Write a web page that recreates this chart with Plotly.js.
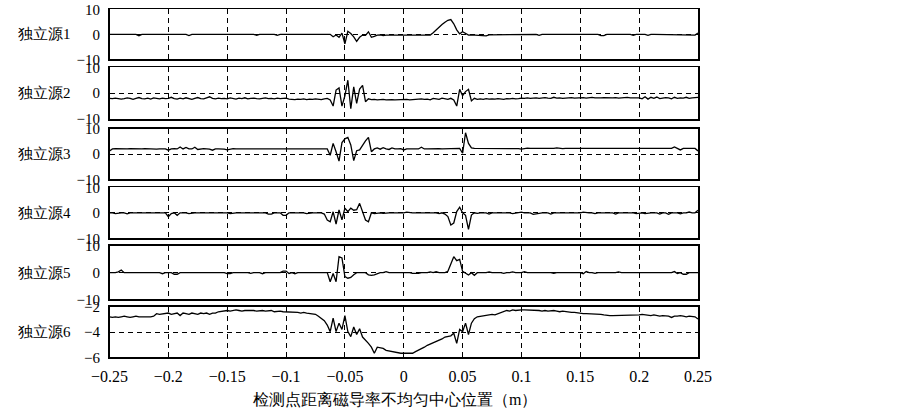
<!DOCTYPE html>
<html><head><meta charset="utf-8">
<script src="https://cdn.plot.ly/plotly-3.0.1.min.js"></script>
<style>body{margin:0;background:#fff}</style>
</head><body><div id="chart" style="width:903px;height:416px"></div>
<script>
// ---- data ----
const sourceNames = ['独立源1','独立源2','独立源3','独立源4','独立源5','独立源6'];
const xTitle = '检测点距离磁导率不均匀中心位置（m）';
const xTickVals = [-0.25,-0.2,-0.15,-0.1,-0.05,0,0.05,0.1,0.15,0.2,0.25];
const xTickText = ['−0.25','−0.2','−0.15','−0.1','−0.05','0','0.05','0.1','0.15','0.2','0.25'];
const yTickVals = [[-10,0,10],[-10,0,10],[-10,0,10],[-10,0,10],[-10,0,10],[-6,-4,-2]];
const yTickText = [['−10','0','10'],['−10','0','10'],['−10','0','10'],['−10','0','10'],['−10','0','10'],['−6','−4','−2']];
const xStart = -0.25, xStep = 0.0025;

const s1 = [
0,0,0,0,0,0,0,0,0,0,-0.6,0,0,0,0,0,0,0,0,0,
0,0,0,0,0,0,0,-0.5,0,0,0,0,0,0,0,0,0,0,0,0,
0,0,0,0,0,0,0,0,0,0,-0.4,0,0,0,0,0,0,-0.4,0,0,
0,0,0,0,0,0,0,0,0.3,0,0,0,0,0,0,0,-1,-0.3,-1.2,0.5,
-3.8,1.2,0.3,-1,-2.8,-1.2,-0.3,-0.4,1,-1.2,-0.8,-0.3,-0.2,-0.5,-0.3,-0.4,-0.3,-0.3,-0.3,-0.3,
-0.2,-0.2,-0.3,-0.2,-0.2,-0.3,-0.3,-0.2,-0.3,-0.3,0.6,1.8,3,3.9,4.8,5.6,5.9,4.2,1.8,0.2,
1,0.2,-0.3,-0.2,-0.3,-0.2,-0.2,-0.6,-0.6,-0.2,-0.2,-0.2,-0.2,-0.2,-0.2,-0.1,-0.1,-0.1,-0.1,0,
0,0,0,-0.3,0,0,-0.4,0,0,0,0,0,0,0,0,0,0,0,0,0,
0,0,0,0,0,0,0,-0.5,-0.5,0,0,0,0,0,0,0,0,0,-0.4,0,
0,0,0,-0.4,0,0,0,0,0,-0.3,0,0,0,0,0,0,0,0,0,-0.3,
0.5];
const s2 = [
-2.0,-2.1,-1.9,-2.0,-2.3,-2.1,-1.8,-2.0,-2.4,-2.0,-1.7,-2.1,-2.2,-1.9,-2.3,-1.8,-2.0,-2.2,-1.9,-2.1,
-2.0,-1.6,-2.1,-2.3,-1.9,-2.2,-1.8,-2.0,-2.4,-2.0,-1.7,-2.1,-2.2,-1.8,-1.4,-2.0,-2.2,-1.9,-2.1,-2.0,
-2.2,-1.8,-2.0,-2.3,-1.9,-2.1,-1.8,-2.2,-2.0,-1.9,-2.1,-2.2,-2.0,-1.8,-2.1,-2.0,-2.2,-1.9,-2.1,-2.0,
-1.9,-2.3,-2.4,-2.5,-2.3,-2.4,-2.2,-2.5,-2.3,-2.4,-2.2,-2.3,-2.5,-2.2,-2.0,-2.6,-5.0,1.2,2.0,-5.0,
-1.0,5.0,-6.0,2.4,-4.0,1.6,3.0,-3.3,-2.2,-2.5,-2.4,-2.6,-2.5,-2.4,-2.6,-2.5,-2.5,-2.6,-2.5,-2.4,
-2.5,-2.4,-2.6,-2.5,-2.4,-2.5,-2.2,-2.4,-2.3,-2.6,-2.0,-2.2,-2.4,-1.9,-2.2,-2.4,-2.0,-2.6,-5.0,1.5,
-1.0,0.6,1.5,-3.0,-2.0,-2.4,-2.2,-2.4,-2.1,-2.3,-2.2,-2.3,-2.1,-2.2,-2.4,-2.1,-2.2,-2.0,-2.2,-2.1,
-1.9,-2.0,-1.8,-2.0,-1.9,-1.8,-2.0,-1.9,-1.7,-1.9,-2.0,-1.6,-1.9,-1.8,-2.0,-1.9,-1.8,-1.7,-1.9,-1.8,
-1.8,-1.7,-1.9,-1.8,-1.6,-1.8,-1.9,-1.8,-1.7,-1.8,-1.9,-1.8,-1.7,-1.9,-1.8,-1.7,-1.6,-1.8,-1.9,-1.8,
-1.8,-2.2,-1.4,-2.3,-1.6,-2.0,-1.5,-2.1,-1.9,-1.7,-1.8,-2.2,-1.6,-2.0,-1.8,-1.9,-1.6,-2.0,-1.8,-1.7,
-1.6];
const s3 = [
1.2,2.0,2.1,2.0,1.9,2.0,2.0,2.1,2.0,2.0,1.9,2.0,2.1,2.0,2.0,2.0,1.9,2.0,2.1,2.0,
1.5,2.0,2.1,2.0,2.8,2.0,2.6,2.0,2.0,2.7,1.8,2.0,2.1,2.0,1.9,1.5,2.0,2.0,2.1,1.9,
1.6,2.0,2.1,2.0,2.0,2.1,2.0,2.0,1.9,2.0,2.1,2.0,2.0,2.0,1.9,2.0,2.0,2.1,2.0,2.0,
2.0,2.1,2.0,1.9,2.0,2.1,2.0,2.0,2.1,2.0,2.0,1.9,2.0,2.1,2.0,-0.5,4.2,0.9,-2.8,4.5,
6.0,6.6,3.6,-2.6,1.3,1.6,3.5,5.2,6.6,0.9,2.0,2.4,1.9,2.5,2.0,1.8,2.4,2.0,2.0,2.1,
1.6,2.0,2.0,2.1,2.0,2.0,2.7,2.0,2.0,2.1,2.0,2.0,2.1,2.0,2.0,2.1,2.0,2.2,2.1,2.2,
0.3,8.4,4.2,2.4,2.2,2.2,2.3,2.2,2.2,2.1,2.2,2.3,2.2,2.2,2.2,2.3,2.2,2.2,2.2,2.1,
1.9,2.2,2.3,2.2,2.2,2.1,2.2,2.2,2.3,2.2,2.2,2.2,2.4,2.2,2.1,2.2,2.2,2.3,2.2,2.2,
2.2,2.1,2.2,2.2,2.2,2.3,2.2,2.2,2.2,2.2,2.1,2.2,2.2,2.2,2.2,2.1,2.2,2.2,2.2,2.1,
2.2,2.2,2.1,2.2,2.2,2.2,2.3,2.2,2.2,2.2,2.1,2.2,2.8,2.2,1.6,2.2,2.2,2.2,2.2,2.2,
1.2];
const s4 = [
0,0,-0.3,0,0,0,-0.4,0,0,0,0,0,0,-0.2,0,0,0,0,0,0,
-1.5,-0.3,0,-1,0,0,0,-0.3,0,0,0,0,0,0,-0.2,0,0,0,0,0,
0,-0.3,0,0,0,0,0,0,-0.2,0,0,0,0,0,-0.5,-0.5,0,0,0,-1.0,
-1.0,0,0,0,0,0,0,-0.3,0,0,0,0,0,-0.5,-2.8,-3.5,0.4,-4.4,1.1,-2.8,
1.8,0.4,1.8,1.0,1.2,3.7,0.4,-2.8,-3.5,0,-0.3,0,0,-0.2,0,0,0,0,0,0,
0,0.3,0,0,0,0,0,0,0,0,0,0,-0.3,0,-0.5,-1.5,-4.8,-4.0,0.5,2.2,
0,-1.0,-6.5,-0.9,0,-0.2,0,0,0,-0.5,0,0,0,0,0,0,0,-0.3,0,0,
0.3,0,0,0,-0.6,-0.4,0,0,0,0,-0.5,0,0,0,0.2,0,0,0,0,0,
0,0.3,0,0,0,-0.3,0,0,0,0,0,0,-0.5,0,0,0,0,0,0,-0.3,
0,0,-0.3,0,0,0,0,-0.5,0,0,-0.6,0,0,0,-0.4,0,0,0.3,0,0,
1.0];
const s5 = [
0,0,0,0.3,1.0,0,0,0,0,0,0,0,0,0,0,0,0,0,-0.4,0,
0,0,-0.6,-0.6,0,0,0,0,0,0,0,0,0,0,0,0,0,0,0,0,
-0.4,-0.4,0,0,0,0,0,0,-0.3,0,0,0,-0.4,0,0,0,0,0,0,0.6,
0.6,-0.3,0,-0.4,0,0,0,0,0,0,0,0,0,0,0,-3.4,-0.3,-3.4,6.0,5.5,
-1.5,-2.1,-1.8,-0.8,0,0,0,0,-0.8,-1.0,-0.8,-0.5,0,0,0.4,0,0,0,0,0,
0,0,0,-0.3,-0.3,-0.3,0,0,0,0.3,0,0.4,0,0,0,0.5,3.5,6.0,4.5,5.0,
0.5,-0.3,-0.9,0,-1.0,0,0,0,0,0.3,0,0,0,0,-0.3,0,0,0.3,0,0,
0,0.4,0,0,0,0,0,0,0,0,0,-0.3,0,0,0,0,0,0,0,0,
0,-0.4,0.4,0,0,-0.3,0,0,0,0,0,0,0,0.3,0,0,0,0,0,0,
0,0,0,0,0,0,0,0,0,0,0,0,0.4,-0.3,0,-0.6,-0.6,0,0,0,
0];
const s6 = [
-2.8,-2.85,-2.8,-2.85,-2.8,-2.75,-2.8,-2.85,-2.8,-2.75,-2.8,-2.8,-2.85,-2.8,-2.8,-2.75,-2.55,-2.6,-2.55,-2.5,
-2.5,-2.6,-2.55,-2.5,-2.7,-2.5,-2.55,-2.6,-2.5,-2.55,-2.6,-2.5,-2.55,-2.5,-2.6,-2.5,-2.5,-2.4,-2.35,-2.3,
-2.3,-2.35,-2.3,-2.25,-2.3,-2.35,-2.3,-2.3,-2.25,-2.3,-2.35,-2.3,-2.3,-2.35,-2.3,-2.3,-2.4,-2.35,-2.35,-2.4,
-2.4,-2.4,-2.45,-2.4,-2.45,-2.5,-2.45,-2.5,-2.55,-2.55,-2.6,-2.75,-2.9,-3.1,-3.45,-3.97,-2.9,-3.97,-3.3,-3.8,
-2.7,-3.97,-4.37,-3.6,-4.2,-3.75,-4.4,-4.63,-4.9,-5.2,-5.68,-5.2,-5.25,-5.3,-5.45,-5.5,-5.55,-5.6,-5.65,-5.68,
-5.68,-5.68,-5.68,-5.68,-5.55,-5.45,-5.3,-5.2,-5.05,-4.95,-4.9,-4.8,-4.65,-4.55,-4.4,-4.35,-4.3,-4.1,-4.9,-3.8,
-3.97,-3.3,-4.2,-3.3,-2.95,-2.8,-2.75,-2.75,-2.7,-2.65,-2.6,-2.65,-2.55,-2.5,-2.4,-2.3,-2.35,-2.25,-2.3,-2.25,
-2.25,-2.25,-2.25,-2.3,-2.3,-2.3,-2.3,-2.35,-2.3,-2.35,-2.3,-2.3,-2.35,-2.4,-2.35,-2.4,-2.4,-2.45,-2.45,-2.5,
-2.5,-2.55,-2.55,-2.55,-2.6,-2.6,-2.6,-2.6,-2.65,-2.7,-2.7,-2.7,-2.7,-2.7,-2.7,-2.7,-2.7,-2.65,-2.65,-2.7,
-2.65,-2.6,-2.65,-2.65,-2.7,-2.65,-2.7,-2.75,-2.7,-2.7,-2.75,-2.85,-2.75,-2.75,-2.7,-2.75,-2.8,-2.75,-2.75,-2.8,
-2.97];
const series = [s1, s2, s3, s4, s5, s6];

// sample positions
const xs = s1.map((_, i) => +(xStart + xStep * i).toFixed(4));

// ---- layout ----
const W = 903, H = 416;
const plotLeft = 109.5, plotRight = 698;
const panelPx = [[9.3,59.3],[67.3,119],[128.7,179.3],[187.3,238.3],[246,299.3],[306.7,357.3]];
const yRanges = [[-10,10],[-10,10],[-10,10],[-10,10],[-10,10],[-6,-2]];
const numFont = 'Liberation Serif';
const cjkFont = 'Liberation Serif';

const traces = series.map((s, k) => ({
  x: xs, y: s, type: 'scatter', mode: 'lines',
  xaxis: k === 0 ? 'x' : 'x' + (k + 1),
  yaxis: k === 0 ? 'y' : 'y' + (k + 1),
  line: {color: '#000', width: 1.3},
  hoverinfo: 'skip', showlegend: false
}));

const layout = {
  width: W, height: H,
  margin: {l: 0, r: 0, t: 0, b: 0, pad: 0},
  paper_bgcolor: '#fff', plot_bgcolor: '#fff',
  showlegend: false,
  annotations: []
};
const xDom = [plotLeft / W, plotRight / W];
panelPx.forEach((p, k) => {
  const sfx = k === 0 ? '' : String(k + 1);
  const dom = [1 - p[1] / H, 1 - p[0] / H];
  const isBottom = k === panelPx.length - 1;
  layout['xaxis' + sfx] = {
    domain: xDom, anchor: 'y' + sfx, range: [-0.25, 0.25],
    tickvals: xTickVals, ticktext: xTickText,
    showticklabels: isBottom,
    tickfont: {family: numFont, size: 16, color: '#000'},
    ticks: '', showgrid: true, gridcolor: '#000', gridwidth: 1, griddash: '5px,4px',
    zeroline: false, showline: true, linecolor: '#000', linewidth: 1.6, mirror: true,
    ticklabelstandoff: 4,
    fixedrange: true
  };
  layout['yaxis' + sfx] = {
    domain: dom, anchor: 'x' + sfx, range: yRanges[k],
    tickvals: yTickVals[k], ticktext: yTickText[k],
    tickfont: {family: numFont, size: 15, color: '#000'},
    ticks: '', showgrid: true, gridcolor: '#000', gridwidth: 1, griddash: '5px,4px',
    zeroline: false, showline: true, linecolor: '#000', linewidth: 1.6, mirror: true,
    ticklabelstandoff: 5,
    fixedrange: true
  };
  layout.annotations.push({
    text: sourceNames[k], xref: 'paper', yref: 'paper',
    x: 73 / W, y: 1 - (p[0] + p[1]) / 2 / H, xanchor: 'right', yanchor: 'middle',
    showarrow: false, font: {family: cjkFont, size: 15, color: '#000'}
  });
});
layout.annotations.push({
  text: xTitle, xref: 'paper', yref: 'paper',
  x: 395 / W, y: 1 - 399 / H, xanchor: 'center', yanchor: 'middle',
  showarrow: false, font: {family: cjkFont, size: 16, color: '#000'}
});

Plotly.newPlot('chart', traces, layout, {staticPlot: true, displayModeBar: false});
</script>
</body></html>
